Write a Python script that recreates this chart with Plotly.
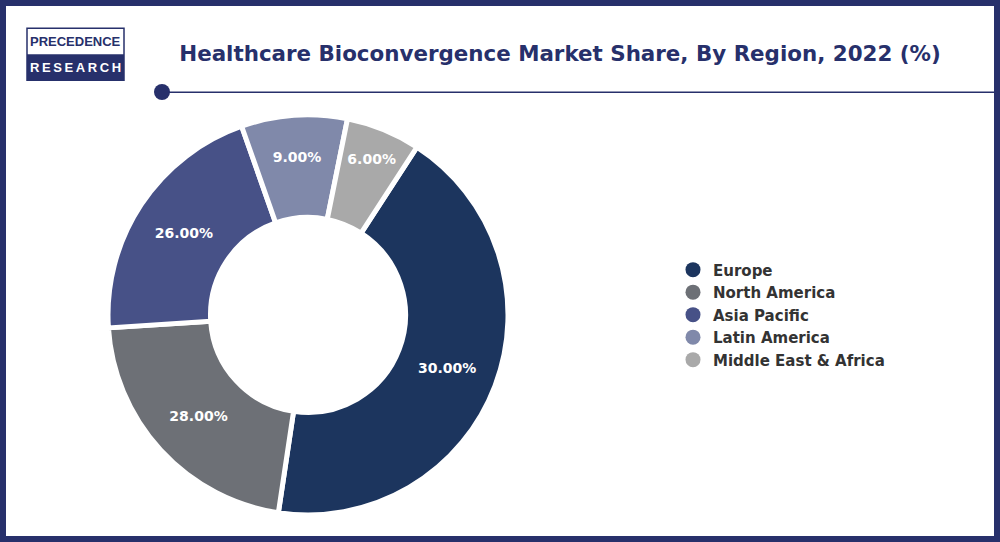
import plotly.graph_objects as go

regions = ["Europe", "North America", "Asia Pacific", "Latin America", "Middle East & Africa"]
# the printed labels and the drawn arcs disagree in the source picture, so both are kept
slice_labels = ["30.00%", "28.00%", "26.00%", "9.00%", "6.00%"]
arc_shares = [43.2, 21.6, 20.65, 8.55, 6]
colors = ["#1c355e", "#6d7076", "#475187", "#8089aa", "#a9a9a9"]

NAVY = "#27306b"
FONT = "DejaVu Sans"
LOGO_FONT = "Liberation Sans"

fig = go.Figure()

fig.add_trace(go.Pie(
    labels=regions,
    values=arc_shares,
    text=slice_labels,
    textinfo="text",
    textposition="inside",
    insidetextorientation="horizontal",
    insidetextfont=dict(color="white", size=14, family=FONT, weight=700),
    hole=0.4875,
    sort=False,
    direction="clockwise",
    rotation=33,
    marker=dict(colors=colors, line=dict(color="white", width=5)),
    domain=dict(x=[0.108, 0.508], y=[0.05, 0.788]),
    showlegend=False,
))

# pie legends only do squares, so the round keys come from empty scatter traces
for region, color in zip(regions, colors):
    fig.add_trace(go.Scatter(
        x=[None], y=[None],
        mode="markers",
        name=region,
        marker=dict(color=color, size=15, symbol="circle"),
    ))

# page frame
fig.add_shape(type="rect", xref="paper", yref="paper", x0=0.003, y0=0.0055, x1=0.997, y1=0.9945,
              line=dict(color=NAVY, width=6), fillcolor="rgba(0,0,0,0)")

# rule under title
fig.add_shape(type="line", xref="paper", yref="paper", x0=0.162, x1=0.997, y0=0.83, y1=0.83,
              line=dict(color=NAVY, width=1.5))
fig.add_shape(type="circle", xref="paper", yref="paper", x0=0.154, x1=0.170, y0=0.8155, y1=0.845,
              fillcolor=NAVY, line=dict(color=NAVY, width=0))

# logo
fig.add_shape(type="rect", xref="paper", yref="paper", x0=0.027, x1=0.124, y0=0.852, y1=0.948,
              line=dict(color=NAVY, width=1.5), fillcolor="white")
fig.add_shape(type="rect", xref="paper", yref="paper", x0=0.027, x1=0.124, y0=0.852, y1=0.9,
              line=dict(color=NAVY, width=0), fillcolor=NAVY)
fig.add_annotation(text="<b>PRECEDENCE</b>", xref="paper", yref="paper", x=0.0755, y=0.924,
                   xanchor="center", yanchor="middle", showarrow=False,
                   font=dict(family=LOGO_FONT, size=13, color=NAVY))
fig.add_annotation(text="<b>R\u2009E\u2009S\u2009E\u2009A\u2009R\u2009C\u2009H</b>", xref="paper", yref="paper",
                   x=0.0755, y=0.876, xanchor="center", yanchor="middle", showarrow=False,
                   font=dict(family=LOGO_FONT, size=13, color="white"))

fig.update_layout(
    width=1000,
    height=542,
    margin=dict(l=0, r=0, t=0, b=0),
    paper_bgcolor="white",
    plot_bgcolor="white",
    xaxis=dict(visible=False),
    yaxis=dict(visible=False),
    title=dict(
        text="<b>Healthcare Bioconvergence Market Share, By Region, 2022 (%)</b>",
        x=0.56, xanchor="center", y=0.902, yanchor="middle",
        font=dict(family=FONT, size=21.4, color=NAVY),
    ),
    showlegend=True,
    legend=dict(
        x=0.673, y=0.419, xanchor="left", yanchor="middle",
        font=dict(family=FONT, size=15, color="#333333", weight=700),
        itemsizing="trace",
    ),
)

# the default page has an 8px body margin that pushes the figure off the window
fig.write_html("out.html", config={"displayModeBar": False},
               post_script="document.body.style.margin='0';")
